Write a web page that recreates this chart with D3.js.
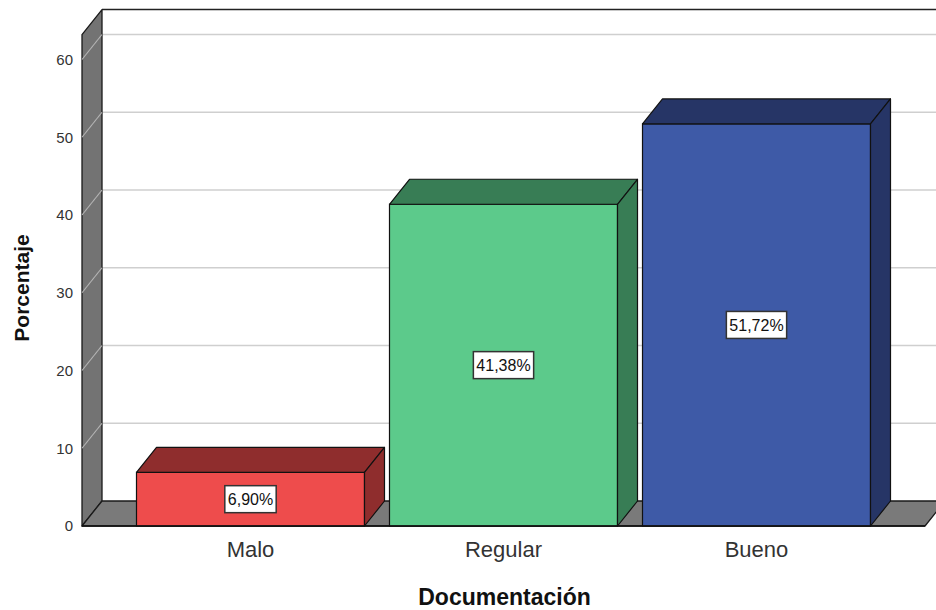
<!DOCTYPE html>
<html>
<head>
<meta charset="utf-8">
<script src="https://cdn.jsdelivr.net/npm/d3@7"></script>
<style>
  html, body { margin: 0; padding: 0; background: #fff; }
  svg { display: block; font-family: "Liberation Sans", Arial, sans-serif; }
</style>
</head>
<body>
<svg id="chart" width="936" height="610"></svg>
<script>
// Data
const categories = ["Malo", "Regular", "Bueno"];
const percentages = [6.90, 41.38, 51.72];
const valueLabels = ["6,90%", "41,38%", "51,72%"];
const yTicks = [0, 10, 20, 30, 40, 50, 60];
const frontColors = ["#ee4c4c", "#5cca8b", "#3e5aa7"];
const shadeColors = ["#8f2d2d", "#387d55", "#263566"];
const axisMax = 63.2;

const W = 936, H = 610;
const DX = 20, DY = -25;          // depth offset of the 3D box
const x0 = 82, x1 = 925, y0 = 526; // front plane of the plot

const svg = d3.select("#chart");

const x = d3.scaleBand()
  .domain(categories)
  .range([x0, x1])
  .paddingInner(0.0988)
  .paddingOuter(0.2154);

const y = d3.scaleLinear()
  .domain([0, 60])
  .range([y0, 59.5]);

const yTop = y(axisMax);
const pts = p => p.map(d => d.join(",")).join(" ");

// Back wall
svg.append("rect")
  .attr("x", x0 + DX).attr("y", yTop + DY)
  .attr("width", W - (x0 + DX) + 20).attr("height", y0 - yTop)
  .attr("fill", "#fff");

// Gridlines on the back wall
svg.append("g").selectAll("line")
  .data(yTicks.filter(t => t > 0))
  .join("line")
  .attr("x1", x0 + DX).attr("x2", W)
  .attr("y1", d => y(d) + DY).attr("y2", d => y(d) + DY)
  .attr("stroke", "#cfcfcf").attr("stroke-width", 1.3);

// Top edge of the back wall
svg.append("line")
  .attr("x1", x0 + DX).attr("x2", W)
  .attr("y1", yTop + DY).attr("y2", yTop + DY)
  .attr("stroke", "#222").attr("stroke-width", 1.5);

// Left wall
svg.append("polygon")
  .attr("points", pts([[x0, y0], [x0 + DX, y0 + DY], [x0 + DX, yTop + DY], [x0, yTop]]))
  .attr("fill", "#737373").attr("stroke", "#1a1a1a").attr("stroke-width", 1.3)
  .attr("stroke-linejoin", "round");

// Gridlines on the left wall
svg.append("g").selectAll("line")
  .data(yTicks.filter(t => t > 0))
  .join("line")
  .attr("x1", x0).attr("x2", x0 + DX)
  .attr("y1", d => y(d)).attr("y2", d => y(d) + DY)
  .attr("stroke", "#b4b4b4").attr("stroke-width", 1.2);

// Floor
svg.append("polygon")
  .attr("points", pts([[x0, y0], [x1, y0], [x1 + DX, y0 + DY], [x0 + DX, y0 + DY]]))
  .attr("fill", "#7a7a7a").attr("stroke", "#1a1a1a").attr("stroke-width", 1.3)
  .attr("stroke-linejoin", "round");

// Y axis tick labels
svg.append("g").selectAll("text")
  .data(yTicks)
  .join("text")
  .attr("x", 73).attr("y", d => y(d))
  .attr("dy", "0.36em")
  .attr("text-anchor", "end")
  .attr("font-size", 15)
  .attr("fill", "#333")
  .text(d => d);

// Bars
const bars = svg.append("g").selectAll("g")
  .data(categories.map((c, i) => ({ c, v: percentages[i], label: valueLabels[i], i })))
  .join("g");

bars.each(function (d) {
  const g = d3.select(this);
  const bx0 = x(d.c), bx1 = x(d.c) + x.bandwidth();
  const by = y(d.v);
  // front face
  g.append("rect")
    .attr("x", bx0).attr("y", by)
    .attr("width", bx1 - bx0).attr("height", y0 - by)
    .attr("fill", frontColors[d.i]).attr("stroke", "#111").attr("stroke-width", 1.2);
  // top face
  g.append("polygon")
    .attr("points", pts([[bx0, by], [bx0 + DX, by + DY], [bx1 + DX, by + DY], [bx1, by]]))
    .attr("fill", shadeColors[d.i]).attr("stroke", "#111").attr("stroke-width", 1.2)
    .attr("stroke-linejoin", "round");
  // side face
  g.append("polygon")
    .attr("points", pts([[bx1, by], [bx1 + DX, by + DY], [bx1 + DX, y0 + DY], [bx1, y0]]))
    .attr("fill", shadeColors[d.i]).attr("stroke", "#111").attr("stroke-width", 1.2)
    .attr("stroke-linejoin", "round");

  // value label
  const cx = (bx0 + bx1) / 2, cy = (by + y0) / 2;
  const t = g.append("text")
    .attr("x", cx).attr("y", cy)
    .attr("dy", "0.36em")
    .attr("text-anchor", "middle")
    .attr("font-size", 16)
    .attr("fill", "#111")
    .text(d.label);
  const bb = t.node().getBBox();
  g.insert("rect", "text")
    .attr("x", bb.x - 3).attr("y", cy - 13.5)
    .attr("width", bb.width + 6).attr("height", 27)
    .attr("fill", "#fff").attr("stroke", "#333").attr("stroke-width", 1.5);
});

// Front baseline
svg.append("line")
  .attr("x1", x0).attr("x2", x1)
  .attr("y1", y0).attr("y2", y0)
  .attr("stroke", "#111").attr("stroke-width", 1.5);

// Category labels
svg.append("g").selectAll("text")
  .data(categories)
  .join("text")
  .attr("x", d => x(d) + x.bandwidth() / 2)
  .attr("y", 557)
  .attr("text-anchor", "middle")
  .attr("font-size", 22)
  .attr("fill", "#333")
  .text(d => d);

// Axis titles
svg.append("text")
  .attr("x", (x0 + x1) / 2 + 1).attr("y", 605)
  .attr("text-anchor", "middle")
  .attr("font-size", 23).attr("font-weight", "bold")
  .attr("fill", "#111")
  .text("Documentación");

svg.append("text")
  .attr("transform", "translate(29,288) rotate(-90)")
  .attr("text-anchor", "middle")
  .attr("font-size", 21).attr("font-weight", "bold")
  .attr("fill", "#111")
  .text("Porcentaje");
</script>
</body>
</html>
